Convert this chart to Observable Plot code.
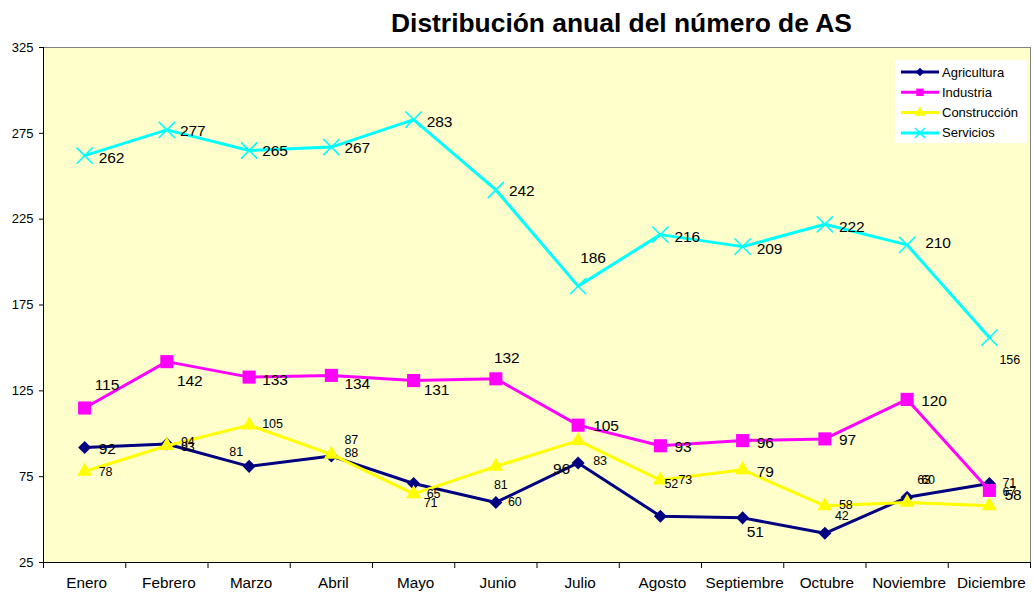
<!DOCTYPE html>
<html><head><meta charset="utf-8">
<script src="https://cdn.jsdelivr.net/npm/d3@7"></script>
<script src="https://cdn.jsdelivr.net/npm/@observablehq/plot@0.6"></script>
<style>
body{margin:0;background:#fff;font-family:"Liberation Sans",Arial,sans-serif;}
#wrap{position:relative;width:1034px;height:594px;overflow:hidden;}
#title{height:40px;position:relative;}
#title span{position:absolute;left:391px;top:10px;font-size:26.4px;font-weight:bold;line-height:26px;white-space:nowrap;color:#000;}
#legend{position:absolute;left:895px;top:60px;}
</style></head><body>
<div id="wrap"><div id="title"><span>Distribución anual del número de AS</span></div><div id="chart"></div><div id="legend"></div></div>
<script>
// ---- data ----
const months = ["Enero","Febrero","Marzo","Abril","Mayo","Junio","Julio","Agosto","Septiembre","Octubre","Noviembre","Diciembre"];
const seriesNames = ["Agricultura","Industria","Construcción","Servicios"];
const agricultura  = [92, 94, 81, 87, 71, 60, 83, 52, 51, 42, 63, 71];
const industria    = [115, 142, 133, 134, 131, 132, 105, 93, 96, 97, 120, 67];
const construccion = [78, 93, 105, 88, 65, 81, 96, 73, 79, 58, 60, 58];
const servicios    = [262, 277, 265, 267, 283, 242, 186, 216, 209, 222, 210, 156];
const yTicks = [25, 75, 125, 175, 225, 275, 325];

// ---- styling ----
const seriesValues = [agricultura, industria, construccion, servicios];
const colors = ["#000080", "#FF00FF", "#FFFF00", "#00FFFF"];
const diamond = {draw(ctx, size){ const h = Math.sqrt(size/2); ctx.moveTo(0,-h); ctx.lineTo(h,0); ctx.lineTo(0,h); ctx.lineTo(-h,0); ctx.closePath(); }};
const symbols = [diamond, "square", "triangle", "times"];
const radii = [5.2, 7.4, 5.6, 7.4];
const legendRadii = [3.4, 4.2, 4.0, 4.6];
const fontL = 15.5, fontS = 12.5;
// label offsets [dx, dy, size, anchor]
const labelLayout = [
 [[14,2,"L"],[14,-2,"S"],[-6,-14,"S","end"],[13,-16,"S"],[10,19,"S"],[12,0,"S"],[15,-2,"S"],[4,-32,"S"],[4,14,"L"],[10,-17,"S"],[10,-17,"S"],[13,-1,"S"]],
 [[10,-23,"L"],[10,19,"L"],[13,3,"L"],[13,9,"L"],[10,9,"L"],[-2,-21,"L"],[15,1,"L"],[14,1,"L"],[14,2,"L"],[14,1,"L"],[14,2,"L"],[13,2,"S"]],
 [[14,0,"S"],[14,1,"S"],[13,-1,"S"],[13,-1,"S"],[13,0,"S"],[-2,19,"S"],[-8,28,"L","end"],[18,0,"S"],[14,2,"L"],[14,-1,"S"],[14,-22,"S"],[15,-11,"L"]],
 [[14,2,"L"],[13,1,"L"],[13,1,"L"],[13,1,"L"],[13,2,"L"],[13,1,"L"],[2,-28,"L"],[14,2,"L"],[14,2,"L"],[14,3,"L"],[18,-2,"L"],[10,22,"S"]]
];

const rowsBySeries = seriesValues.map((vals, k) => vals.map((v, i) => ({serie: seriesNames[k], x: i + 0.5, v, i, k})));

const marks = [
  Plot.frame({fill: "#FFFFCC", stroke: "none"}),
  Plot.ruleY([325], {stroke: "#808080", strokeWidth: 1}),
  Plot.ruleX([12], {stroke: "#808080", strokeWidth: 1}),
  Plot.axisY({ticks: yTicks, tickSize: 4, tickPadding: 6, fontSize: 13, label: null, tickFormat: d => String(d)}),
  Plot.axisX({ticks: d3.range(0, 13), tickSize: 6, tickFormat: () => "", label: null}),
  Plot.axisX({ticks: months.map((m, i) => i + 0.5), tickSize: 0, tickPadding: 15, fontSize: 15.3, dx: 2, label: null, tickFormat: d => months[Math.floor(d)]}),
  Plot.ruleX([0], {stroke: "#000", strokeWidth: 1}),
  Plot.ruleY([25], {stroke: "#000", strokeWidth: 1})
];
rowsBySeries.forEach((rows, k) => {
  marks.push(Plot.line(rows, {x: "x", y: "v", stroke: colors[k], strokeWidth: 3}));
  if (symbols[k] === "times") {
    marks.push(Plot.dot(rows, {x: "x", y: "v", symbol: "times", r: radii[k], stroke: colors[k], strokeWidth: 1.6}));
  } else {
    marks.push(Plot.dot(rows, {x: "x", y: "v", symbol: symbols[k], r: radii[k], fill: colors[k], stroke: "none"}));
  }
});
rowsBySeries.forEach((rows, k) => {
  rows.forEach((d, i) => {
    const [dx, dy, sz, anchor] = labelLayout[k][i];
    marks.push(Plot.text([d], {x: "x", y: "v", text: d => String(d.v), dx, dy, fontSize: sz === "L" ? fontL : fontS, textAnchor: anchor || "start", fill: "#000"}));
  });
});

const chart = Plot.plot({
  width: 1034, height: 554,
  marginLeft: 43, marginRight: 4, marginTop: 7, marginBottom: 32,
  style: {fontFamily: '"Liberation Sans", Arial, sans-serif', background: "transparent", color: "#000"},
  x: {type: "linear", domain: [0, 12]},
  y: {type: "linear", domain: [25, 325]},
  marks
});
document.getElementById("chart").appendChild(chart);

// ---- legend ----
const lg = d3.select("#legend").append("svg").attr("width", 132).attr("height", 83)
  .style("font-family", '"Liberation Sans", Arial, sans-serif');
lg.append("rect").attr("width", 132).attr("height", 83).attr("fill", "#fff");
seriesNames.forEach((name, k) => {
  const y = 12 + 20.3 * k;
  const g = lg.append("g");
  g.append("line").attr("x1", 6).attr("x2", 44).attr("y1", y).attr("y2", y).attr("stroke", colors[k]).attr("stroke-width", 3);
  const r = legendRadii[k];
  const sym = k === 0 ? diamond : k === 1 ? d3.symbolSquare : k === 2 ? d3.symbolTriangle : d3.symbolTimes;
  const p = g.append("path").attr("d", d3.symbol(sym, Math.PI * r * r)()).attr("transform", `translate(25,${y})`);
  if (k === 3) p.attr("fill", "none").attr("stroke", colors[k]).attr("stroke-width", 1.5);
  else p.attr("fill", colors[k]);
  g.append("text").attr("x", 47).attr("y", y).attr("dy", "0.35em").attr("font-size", 13).attr("fill", "#000").text(name);
});
</script>
</body></html>
